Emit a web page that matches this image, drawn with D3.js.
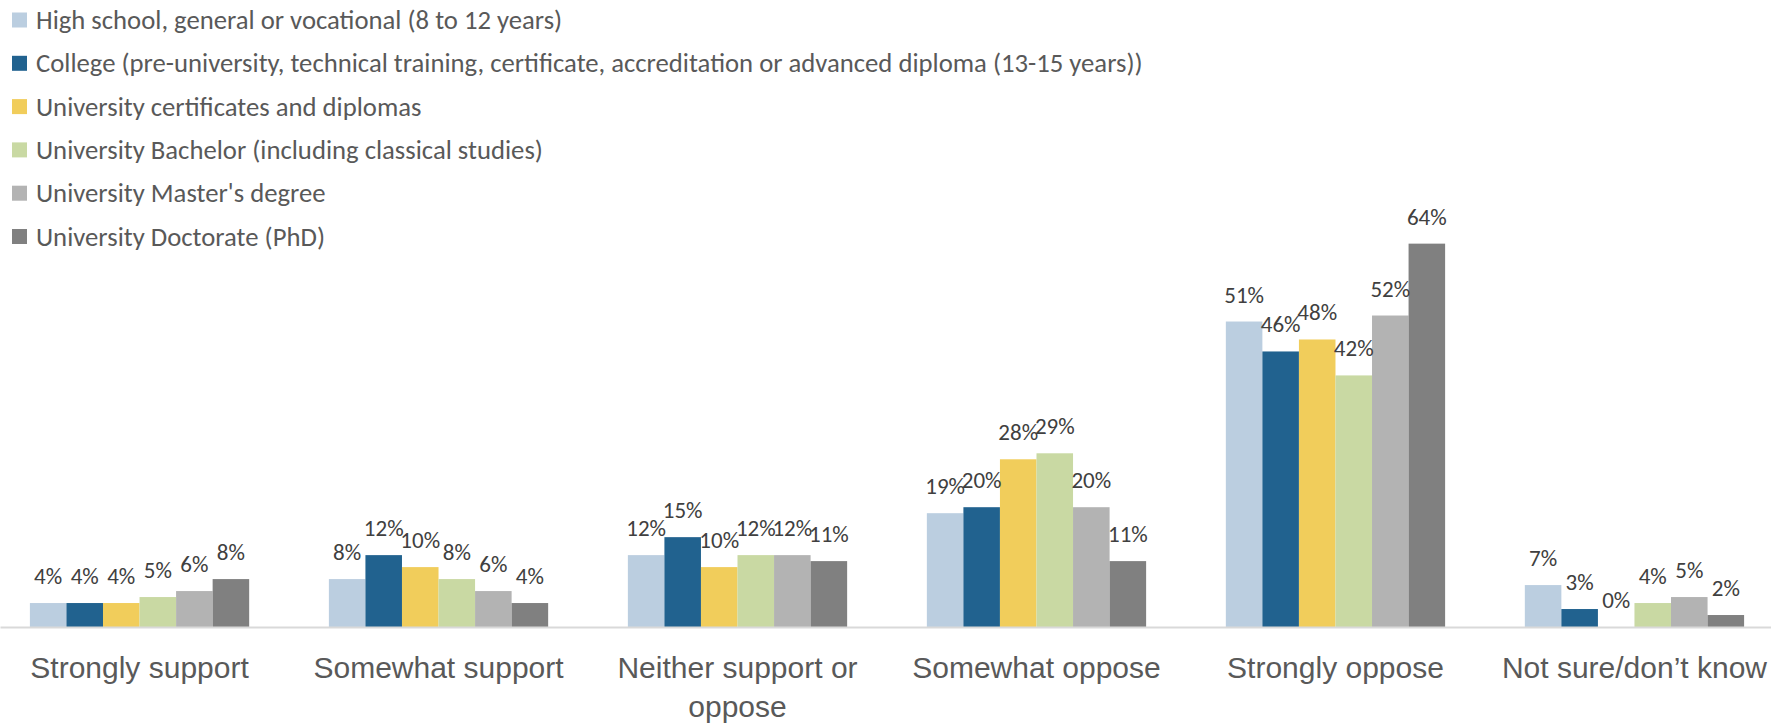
<!DOCTYPE html>
<html>
<head>
<meta charset="utf-8">
<script src="https://cdn.jsdelivr.net/npm/d3@7"></script>
<style>
  html, body { margin: 0; padding: 0; background: #ffffff; }
  svg { display: block; font-family: Carlito, Calibri, Lato, "Open Sans", sans-serif; }
</style>
</head>
<body>
<svg id="chart" width="1771" height="723"></svg>
<script>
// Responses to the question, grouped by answer category
const categories = [
  "Strongly support",
  "Somewhat support",
  "Neither support or oppose",
  "Somewhat oppose",
  "Strongly oppose",
  "Not sure/don\u2019t know"
];

// Education levels (one bar per level in each group)
const seriesNames = [
  "High school, general or vocational (8 to 12 years)",
  "College (pre-university, technical training, certificate, accreditation or advanced diploma (13-15 years))",
  "University certificates and diplomas",
  "University Bachelor (including classical studies)",
  "University Master's degree",
  "University Doctorate (PhD)"
];

// Share of respondents (%) per education level, in category order
const highSchool = [4, 8, 12, 19, 51, 7];
const college    = [4, 12, 15, 20, 46, 3];
const uniCert    = [4, 10, 10, 28, 48, 0];
const bachelor   = [5, 8, 12, 29, 42, 4];
const master     = [6, 6, 12, 20, 52, 5];
const doctorate  = [8, 4, 11, 11, 64, 2];

const seriesValues = [highSchool, college, uniCert, bachelor, master, doctorate];
const seriesColors = ["#bbcee0", "#21628f", "#f1cd5b", "#c9d9a3", "#b3b3b3", "#808080"];

const svg = d3.select("#chart");

// Scales
const x0 = d3.scaleBand()
  .domain(categories)
  .range([0, 1774])
  .paddingInner(0.2666)
  .paddingOuter(0.1);

const x1 = d3.scaleBand()
  .domain(seriesNames)
  .range([0, x0.bandwidth()]);

const y = d3.scaleLinear()
  .domain([0, 70])
  .range([627, 207.7]);

const color = d3.scaleOrdinal().domain(seriesNames).range(seriesColors);

// Flattened rows for bars and labels
const rows = [];
categories.forEach((c, ci) => {
  seriesNames.forEach((s, si) => {
    rows.push({ category: c, series: s, value: seriesValues[si][ci] });
  });
});

// Bars
svg.append("g")
  .selectAll("rect")
  .data(rows)
  .join("rect")
  .attr("x", d => x0(d.category) + x1(d.series))
  .attr("y", d => y(d.value))
  .attr("width", x1.bandwidth())
  .attr("height", d => y(0) - y(d.value))
  .attr("fill", d => color(d.series));

// Value labels above bars
svg.append("g")
  .selectAll("text")
  .data(rows)
  .join("text")
  .attr("x", d => x0(d.category) + x1(d.series) + x1.bandwidth() / 2)
  .attr("y", d => y(d.value) - 19)
  .attr("text-anchor", "middle")
  .attr("font-size", 23)
  .attr("fill", "#404040")
  .text(d => d.value + "%");

// Category axis along the baseline
const xAxis = svg.append("g")
  .attr("transform", `translate(0,${y(0)})`)
  .call(d3.axisBottom(x0).tickSize(0).tickSizeOuter(0).tickPadding(0));

xAxis.select(".domain")
  .attr("stroke", "#d9d9d9")
  .attr("stroke-width", 2);

xAxis.selectAll(".tick text")
  .attr("font-size", 30)
  .attr("fill", "#595959")
  .attr("font-family", null)
  .attr("dy", null)
  .attr("y", 51)
  .call(wrap, 290);

function wrap(texts, width) {
  texts.each(function() {
    const text = d3.select(this);
    const words = text.text().split(/\s+/);
    const yPos = +text.attr("y");
    text.text(null);
    let line = [];
    let lineNo = 0;
    let tspan = text.append("tspan").attr("x", 0).attr("y", yPos);
    words.forEach(w => {
      line.push(w);
      tspan.text(line.join(" "));
      if (tspan.node().getComputedTextLength() > width && line.length > 1) {
        line.pop();
        tspan.text(line.join(" "));
        line = [w];
        lineNo += 1;
        tspan = text.append("tspan").attr("x", 0).attr("y", yPos + lineNo * 39).text(w);
      }
    });
  });
}

// Legend, stacked in the top-left corner
const legend = svg.append("g")
  .selectAll("g")
  .data(seriesNames)
  .join("g")
  .attr("transform", (d, i) => `translate(12,${12.5 + i * 43.3})`);

legend.append("rect")
  .attr("width", 15)
  .attr("height", 15)
  .attr("fill", d => color(d));

legend.append("text")
  .attr("x", 24)
  .attr("y", 16.5)
  .attr("font-size", 26.7)
  .attr("fill", "#595959")
  .text(d => d);
</script>
</body>
</html>
